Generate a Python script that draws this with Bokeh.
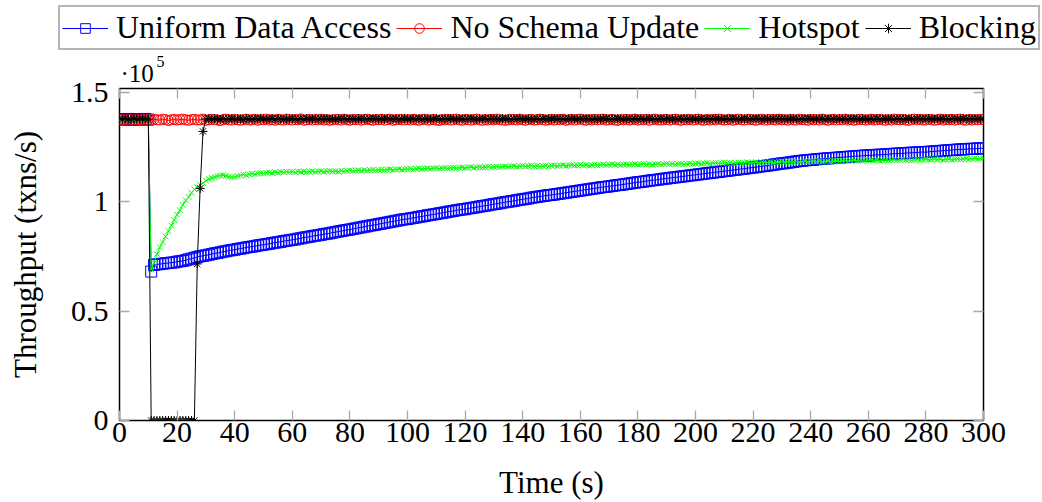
from bokeh.plotting import figure
from bokeh.layouts import column
from bokeh.models import Range1d, FixedTicker, LinearAxis, Legend, LegendItem, Label
from bokeh.embed import file_html
from bokeh.resources import INLINE

# ---------------- data (throughput in thousands of txns/s) ----------------
time_s = list(range(0, 301))

uniform_k = [
    137.4, 137.6, 137.5, 137.7, 137.3, 137.5, 137.6, 137.4, 137.5, 137.7, 137.4,
    68.0,
    71.0, 71.3, 71.4, 71.6, 71.8, 71.9, 72.1, 72.2,
    72.5, 72.7, 72.9, 73.2, 73.6, 73.9, 74.3, 74.6, 75.0, 75.2,
    75.4, 75.7, 76.0, 76.3, 76.5, 76.8, 77.1, 77.3, 77.6, 77.8,
    78.0, 78.3, 78.5, 78.7, 79.0, 79.2, 79.4, 79.6, 79.9, 80.1,
    80.3, 80.5, 80.7, 81.0, 81.2, 81.4, 81.6, 81.9, 82.1, 82.3,
    82.5, 82.7, 83.0, 83.2, 83.5, 83.7, 83.9, 84.2, 84.4, 84.6,
    84.8, 85.1, 85.3, 85.5, 85.8, 86.0, 86.3, 86.5, 86.8, 87.0,
    87.2, 87.5, 87.7, 88.0, 88.2, 88.5, 88.7, 89.0, 89.2, 89.4,
    89.7, 89.9, 90.2, 90.4, 90.7, 90.9, 91.2, 91.4, 91.7, 91.9,
    92.0, 92.3, 92.5, 92.7, 93.0, 93.2, 93.4, 93.7, 93.9, 94.1,
    94.3, 94.6, 94.8, 95.0, 95.3, 95.5, 95.7, 96.0, 96.2, 96.4,
    96.5, 96.8, 97.0, 97.2, 97.4, 97.7, 97.9, 98.1, 98.3, 98.6,
    98.8, 99.0, 99.2, 99.5, 99.7, 99.9, 100.1, 100.3, 100.6, 100.8,
    101.0, 101.2, 101.4, 101.7, 101.9, 102.1, 102.3, 102.5, 102.7, 102.9,
    103.0, 103.2, 103.4, 103.6, 103.8, 104.0, 104.2, 104.4, 104.6, 104.8,
    105.0, 105.2, 105.4, 105.6, 105.8, 106.0, 106.2, 106.4, 106.6, 106.7,
    106.9, 107.1, 107.3, 107.5, 107.6, 107.8, 108.0, 108.2, 108.4, 108.6,
    108.8, 108.9, 109.1, 109.3, 109.5, 109.7, 109.8, 110.0, 110.2, 110.4,
    110.5, 110.7, 110.9, 111.0, 111.2, 111.4, 111.5, 111.7, 111.9, 112.0,
    112.2, 112.4, 112.5, 112.7, 112.9, 113.0, 113.2, 113.4, 113.5, 113.7,
    113.9, 114.0, 114.2, 114.4, 114.5, 114.7, 114.9, 115.0, 115.2, 115.4,
    115.5, 115.7, 115.9, 116.1, 116.2, 116.4, 116.6, 116.8, 117.0, 117.2,
    117.4, 117.5, 117.7, 117.9, 118.1, 118.3, 118.5, 118.6, 118.8, 118.9,
    119.0, 119.1, 119.3, 119.4, 119.5, 119.6, 119.7, 119.8, 119.9, 120.0,
    120.1, 120.2, 120.3, 120.4, 120.5, 120.6, 120.7, 120.8, 120.9, 121.0,
    121.0, 121.1, 121.2, 121.3, 121.4, 121.4, 121.5, 121.6, 121.7, 121.8,
    121.9, 121.9, 122.0, 122.1, 122.2, 122.3, 122.3, 122.4, 122.5, 122.6,
    122.5, 122.7, 122.8, 122.9, 123.0, 123.1, 123.2, 123.3, 123.4, 123.5,
    123.6, 123.7, 123.8, 123.8, 123.9, 124.0, 124.1, 124.1, 124.2, 124.3,
    124.3,
]

no_schema_k = [
    137.3, 137.5, 137.2, 137.6, 137.4, 137.1, 137.5, 137.3, 137.6, 137.2,
    137.4, 137.1, 137.5, 137.3, 137.2, 137.6, 137.4, 137.0, 137.3, 137.5,
    137.2, 137.4, 137.6, 137.3, 137.1, 137.4, 137.5, 137.2, 137.3, 137.6,
    137.1, 137.3, 137.5, 137.4, 137.2, 137.0, 137.4, 137.6, 137.3, 137.2,
    137.5, 137.3, 137.1, 137.4, 137.6, 137.2, 137.3, 137.5, 137.1, 137.4,
    137.3, 137.6, 137.2, 137.4, 137.1, 137.5, 137.3, 137.2, 137.6, 137.4,
    137.2, 137.4, 137.3, 137.7, 137.1, 137.3, 137.5, 137.2, 137.4, 137.3,
    137.6, 137.2, 137.4, 137.1, 137.3, 137.5, 137.4, 137.2, 137.6, 137.3,
    137.1, 137.4, 137.3, 137.5, 137.2, 137.4, 137.6, 137.3, 137.1, 137.4,
    137.3, 137.5, 137.2, 137.4, 137.6, 137.1, 137.3, 137.5, 137.4, 137.2,
    137.4, 137.2, 137.5, 137.3, 137.1, 137.4, 137.6, 137.2, 137.3, 137.5,
    137.2, 137.0, 137.4, 137.3, 137.5, 137.2, 137.4, 137.6, 137.3, 137.1,
    137.5, 137.3, 137.2, 137.4, 137.6, 137.3, 137.1, 137.4, 137.2, 137.5,
    137.3, 137.6, 137.4, 137.2, 137.1, 137.3, 137.5, 137.4, 137.2, 137.6,
    137.3, 137.1, 137.4, 137.5, 137.2, 137.3, 137.6, 137.4, 137.1, 137.3,
    137.5, 137.2, 137.4, 137.3, 137.6, 137.1, 137.3, 137.5, 137.2, 137.4,
    137.6, 137.3, 137.1, 137.4, 137.2, 137.5, 137.3, 137.4, 137.6, 137.2,
    137.3, 137.5, 137.2, 137.0, 137.4, 137.3, 137.5, 137.2, 137.4, 137.6,
    137.2, 137.4, 137.3, 137.5, 137.1, 137.4, 137.6, 137.3, 137.2, 137.4,
    137.5, 137.2, 137.4, 137.6, 137.3, 137.1, 137.4, 137.3, 137.5, 137.2,
    137.4, 137.6, 137.3, 137.1, 137.4, 137.2, 137.5, 137.3, 137.6, 137.4,
    137.2, 137.3, 137.5, 137.1, 137.4, 137.6, 137.3, 137.2, 137.4, 137.5,
    137.3, 137.1, 137.4, 137.6, 137.2, 137.3, 137.5, 137.4, 137.2, 137.6,
    137.3, 137.4, 137.1, 137.5, 137.3, 137.2, 137.6, 137.4, 137.3, 137.1,
    137.5, 137.3, 137.4, 137.2, 137.6, 137.3, 137.1, 137.4, 137.5, 137.2,
    137.4, 137.3, 137.6, 137.2, 137.4, 137.1, 137.3, 137.5, 137.4, 137.2,
    137.3, 137.6, 137.2, 137.4, 137.5, 137.3, 137.1, 137.4, 137.2, 137.6,
    137.4, 137.3, 137.5, 137.2, 137.1, 137.4, 137.6, 137.3, 137.5, 137.2,
    137.3, 137.5, 137.4, 137.1, 137.3, 137.6, 137.2, 137.4, 137.3, 137.5,
    137.2, 137.4, 137.6, 137.3, 137.1, 137.5, 137.2, 137.4, 137.3, 137.5,
    137.3,
]

hotspot_k = [
    137.2, 137.5, 137.3, 137.6, 137.4, 137.2, 137.5, 137.3, 137.6, 137.4, 137.3,
    69.0, 72.0, 76.0, 79.0, 81.5, 84.0, 86.5, 89.0, 91.5,
    94.0, 96.0, 98.5, 100.5, 102.0, 104.0, 105.5, 106.5, 107.5, 108.5,
    109.5, 110.3, 110.8, 111.2, 111.6, 111.8, 112.0, 111.7, 111.3, 111.1,
    111.2, 111.6, 111.9, 112.3, 112.0, 112.4, 112.7, 112.5, 112.8, 113.0,
    112.8, 113.1, 113.3, 113.0, 113.4, 113.2, 113.5, 113.3, 113.6, 113.4,
    113.6, 113.3, 113.7, 113.5, 113.8, 113.4, 113.6, 113.9, 113.5, 113.7,
    113.9, 113.6, 113.8, 114.0, 113.7, 113.9, 113.6, 114.1, 113.8, 114.0,
    114.2, 113.9, 114.1, 114.3, 114.0, 114.4, 114.1, 114.3, 114.5, 114.2,
    114.4, 114.6, 114.3, 114.5, 114.7, 114.4, 114.6, 114.8, 114.5, 114.7,
    114.8, 115.0, 114.7, 114.9, 115.1, 114.8, 115.0, 115.2, 114.9, 115.1,
    115.3, 115.0, 115.2, 115.4, 115.1, 115.3, 115.5, 115.2, 115.4, 115.6,
    115.3, 115.5, 115.7, 115.4, 115.6, 115.8, 115.5, 115.7, 115.9, 115.6,
    115.8, 116.0, 115.7, 115.9, 116.1, 115.8, 116.0, 116.2, 115.9, 116.1,
    116.3, 116.0, 116.2, 116.4, 116.1, 116.3, 116.0, 116.2, 116.4, 116.1,
    116.3, 116.5, 116.2, 116.4, 116.6, 116.3, 116.5, 116.7, 116.4, 116.6,
    116.8, 116.5, 116.7, 116.4, 116.6, 116.8, 116.5, 116.7, 116.9, 116.6,
    116.8, 117.0, 116.7, 116.9, 116.6, 116.8, 117.0, 116.7, 116.9, 117.1,
    116.8, 117.0, 117.2, 116.9, 117.1, 116.8, 117.0, 117.2, 116.9, 117.1,
    117.3, 117.0, 117.2, 116.9, 117.1, 117.3, 117.0, 117.2, 117.4, 117.1,
    117.3, 117.5, 117.2, 117.4, 117.6, 117.3, 117.5, 117.7, 117.4, 117.6,
    117.8, 117.5, 117.7, 117.4, 117.6, 117.8, 117.5, 117.7, 117.9, 117.6,
    117.8, 118.0, 117.7, 117.9, 118.1, 117.8, 118.0, 117.7, 117.9, 118.1,
    118.3, 118.0, 118.2, 117.9, 118.1, 118.3, 118.0, 118.2, 118.4, 118.1,
    118.3, 118.5, 118.2, 118.4, 118.1, 118.3, 118.5, 118.2, 118.4, 118.6,
    118.3, 118.5, 118.7, 118.4, 118.6, 118.8, 118.5, 118.7, 118.4, 118.6,
    118.8, 119.0, 118.7, 118.9, 118.6, 118.8, 119.0, 118.7, 118.9, 119.1,
    118.8, 119.0, 119.2, 118.9, 119.1, 118.8, 119.0, 119.2, 118.9, 119.1,
    119.3, 119.0, 119.2, 119.4, 119.1, 119.3, 119.0, 119.2, 119.4, 119.1,
    119.3, 119.5, 119.2, 119.4, 119.6, 119.3, 119.5, 119.7, 119.4, 119.6,
    119.8,
]

blocking_k = [
    137.8, 137.6, 137.9, 137.7, 137.5, 137.8, 137.6, 137.9, 137.7, 137.8, 137.6,
    0.0, 0.0, 0.0, 0.0, 0.0, 0.0, 0.0, 0.0, 0.0, 0.0, 0.0, 0.0, 0.0, 0.0, 0.0, 0.0,
    71.5, 106.0, 132.0,
    137.7, 137.8, 137.6, 137.9, 137.7, 137.5, 137.8, 137.6, 137.7, 137.9,
    137.6, 137.8, 137.7, 137.5, 137.9, 137.7, 137.6, 137.8, 137.7, 137.9,
    137.8, 137.6, 137.7, 137.9, 137.6, 137.8, 137.7, 137.5, 137.8, 137.7,
    137.9, 137.7, 137.6, 137.8, 137.7, 137.9, 137.6, 137.7, 137.8, 137.6,
    137.7, 137.9, 137.8, 137.6, 137.7, 137.5, 137.8, 137.7, 137.9, 137.6,
    137.8, 137.7, 137.6, 137.9, 137.7, 137.8, 137.6, 137.7, 137.9, 137.8,
    137.6, 137.8, 137.7, 137.9, 137.6, 137.7, 137.8, 137.5, 137.7, 137.9,
    137.7, 137.6, 137.8, 137.7, 137.9, 137.6, 137.8, 137.7, 137.6, 137.8,
    137.9, 137.7, 137.6, 137.8, 137.7, 137.9, 137.7, 137.6, 137.8, 137.7,
    137.6, 137.8, 137.9, 137.7, 137.6, 137.8, 137.7, 137.9, 137.6, 137.7,
    137.8, 137.7, 137.6, 137.9, 137.7, 137.8, 137.6, 137.7, 137.8, 137.9,
    137.7, 137.6, 137.8, 137.7, 137.5, 137.8, 137.7, 137.9, 137.6, 137.8,
    137.7, 137.9, 137.6, 137.8, 137.7, 137.6, 137.8, 137.9, 137.7, 137.6,
    137.8, 137.7, 137.9, 137.6, 137.7, 137.8, 137.6, 137.7, 137.9, 137.8,
    137.6, 137.7, 137.8, 137.9, 137.7, 137.6, 137.8, 137.7, 137.6, 137.9,
    137.7, 137.8, 137.6, 137.7, 137.9, 137.8, 137.7, 137.6, 137.8, 137.7,
    137.9, 137.6, 137.7, 137.8, 137.6, 137.9, 137.7, 137.8, 137.6, 137.7,
    137.8, 137.7, 137.9, 137.6, 137.8, 137.7, 137.6, 137.9, 137.7, 137.8,
    137.6, 137.8, 137.7, 137.9, 137.7, 137.6, 137.8, 137.7, 137.9, 137.6,
    137.7, 137.9, 137.8, 137.6, 137.7, 137.8, 137.6, 137.9, 137.7, 137.8,
    137.8, 137.6, 137.7, 137.8, 137.9, 137.7, 137.6, 137.8, 137.7, 137.9,
    137.7, 137.8, 137.6, 137.7, 137.9, 137.6, 137.8, 137.7, 137.8, 137.6,
    137.9, 137.7, 137.8, 137.6, 137.7, 137.9, 137.7, 137.6, 137.8, 137.7,
    137.6, 137.8, 137.7, 137.9, 137.6, 137.7, 137.8, 137.7, 137.9, 137.6,
    137.8, 137.7, 137.6, 137.8, 137.7, 137.9, 137.6, 137.8, 137.7, 137.8,
    137.7, 137.9, 137.7, 137.6, 137.8, 137.7, 137.9, 137.6, 137.7, 137.8,
    137.6, 137.8, 137.7, 137.9, 137.7, 137.6, 137.8, 137.7, 137.8, 137.7,
    137.7,
]

x_ticks = list(range(0, 301, 20))
y_ticks = [0, 50000, 100000, 150000]
y_tick_labels = {0: "0", 50000: "0.5", 100000: "1", 150000: "1.5"}
series_names = ["Uniform Data Access", "No Schema Update", "Hotspot", "Blocking"]

for s in (uniform_k, no_schema_k, hotspot_k, blocking_k):
    assert len(s) == len(time_s), len(s)

FONT = "Liberation Serif"
STYLES = [
    dict(color="#0000ff", marker="square", size=11),
    dict(color="#ff0000", marker="circle", size=10),
    dict(color="#00ff00", marker="x", size=8),
    dict(color="black", marker="asterisk", size=9),
]

HEADER_H = 86
OVERLAP = 12   # the main plot's (transparent) top border slides under the header
W = 1042

def no_frame_align(fig):
    if "frame_align" in fig.properties():
        fig.frame_align = False

# ---------------- main plot ----------------
p = figure(width=W, height=502 - HEADER_H + OVERLAP, output_backend="svg", toolbar_location=None,
           x_range=Range1d(0, 300), y_range=Range1d(0, 151600),
           min_border_left=119, min_border_right=59, min_border_top=2 + OVERLAP,
           min_border_bottom=80)
no_frame_align(p)
p.margin = (-OVERLAP, 0, 0, 0)
p.background_fill_color = "white"
p.border_fill_color = "white"
p.border_fill_alpha = 0
p.outline_line_color = "black"
p.outline_line_width = 1.5
p.grid.visible = False

def style_axis(ax, show_labels=True):
    ax.axis_line_color = None
    ax.major_tick_in = 10
    ax.major_tick_out = 0
    ax.major_tick_line_color = "#a8a8a8"
    ax.major_tick_line_width = 1.3
    ax.minor_tick_line_color = None
    ax.major_label_text_font = FONT
    ax.major_label_text_font_size = "30px" if show_labels else "0px"
    ax.major_label_text_color = "black" if show_labels else None
    ax.axis_label_text_font = FONT
    ax.axis_label_text_font_size = "31px"
    ax.axis_label_text_font_style = "normal"
    ax.axis_label_text_color = "black"

p.xaxis.ticker = FixedTicker(ticks=x_ticks)
p.yaxis.ticker = FixedTicker(ticks=y_ticks)
p.yaxis.major_label_overrides = y_tick_labels
p.xaxis.axis_label = "Time (s)"
p.yaxis.axis_label = "Throughput (txns/s)"
style_axis(p.xaxis[0])
style_axis(p.yaxis[0])
p.xaxis.major_label_standoff = 2
p.yaxis.major_label_standoff = 11
p.xaxis.axis_label_standoff = 20
p.yaxis.axis_label_standoff = 25

top_ax = LinearAxis(ticker=FixedTicker(ticks=x_ticks))
right_ax = LinearAxis(ticker=FixedTicker(ticks=y_ticks))
style_axis(top_ax, False)
style_axis(right_ax, False)
top_ax.major_label_standoff = 0
right_ax.major_label_standoff = 0
p.add_layout(top_ax, "above")
p.add_layout(right_ax, "right")

t = time_s
series_vals = [uniform_k, no_schema_k, hotspot_k, blocking_k]
series_y = [[v * 1000 for v in vals] for vals in series_vals]
for yv, st in zip(series_y, STYLES):
    p.line(t, yv, line_color=st["color"], line_width=1)
    p.scatter(t, yv, marker=st["marker"], size=st["size"], fill_color=None,
              line_color=st["color"], line_width=1)

# ---------------- header: legend and the y-axis exponent ----------------
hd = figure(frame_width=W, frame_height=HEADER_H, output_backend="svg", toolbar_location=None,
            x_range=Range1d(0, W), y_range=Range1d(0, HEADER_H), title=None,
            x_axis_location=None, y_axis_location=None, min_border=0)
no_frame_align(hd)
hd.outline_line_color = None
hd.background_fill_color = "white"
hd.border_fill_color = "white"
hd.grid.visible = False

items = []
for name, yv, st in zip(series_names, series_y, STYLES):
    # legend proxies: same series, same style, not drawn in the header itself
    lr = hd.line(t, yv, line_color=st["color"], line_width=1, visible=False)
    mr = hd.scatter(t, yv, marker=st["marker"], size=st["size"], fill_color=None,
                    line_color=st["color"], line_width=1, visible=False)
    items.append(LegendItem(label=name, renderers=[lr, mr]))

legend = Legend(items=items, orientation="horizontal", location=(58, 36))
legend.label_text_font = FONT
legend.label_text_font_size = "32px"
legend.label_text_color = "black"
legend.glyph_width = 46
legend.glyph_height = 24
legend.label_standoff = 8
legend.spacing = 5
legend.padding = 2
legend.margin = 0
legend.inactive_fill_alpha = 0
legend.border_line_color = "#6e6e6e"
legend.border_line_width = 2
legend.background_fill_color = "white"
legend.background_fill_alpha = 1
hd.add_layout(legend)

hd.add_layout(Label(x=120, y=13, text="·10", text_font=FONT, text_font_size="25px",
                    text_color="black", text_baseline="alphabetic"))
hd.add_layout(Label(x=156, y=25, text="5", text_font=FONT, text_font_size="16px",
                    text_color="black", text_baseline="alphabetic"))

layout = column(hd, p, spacing=0)
open("out.html", "w").write(file_html(layout, INLINE))
